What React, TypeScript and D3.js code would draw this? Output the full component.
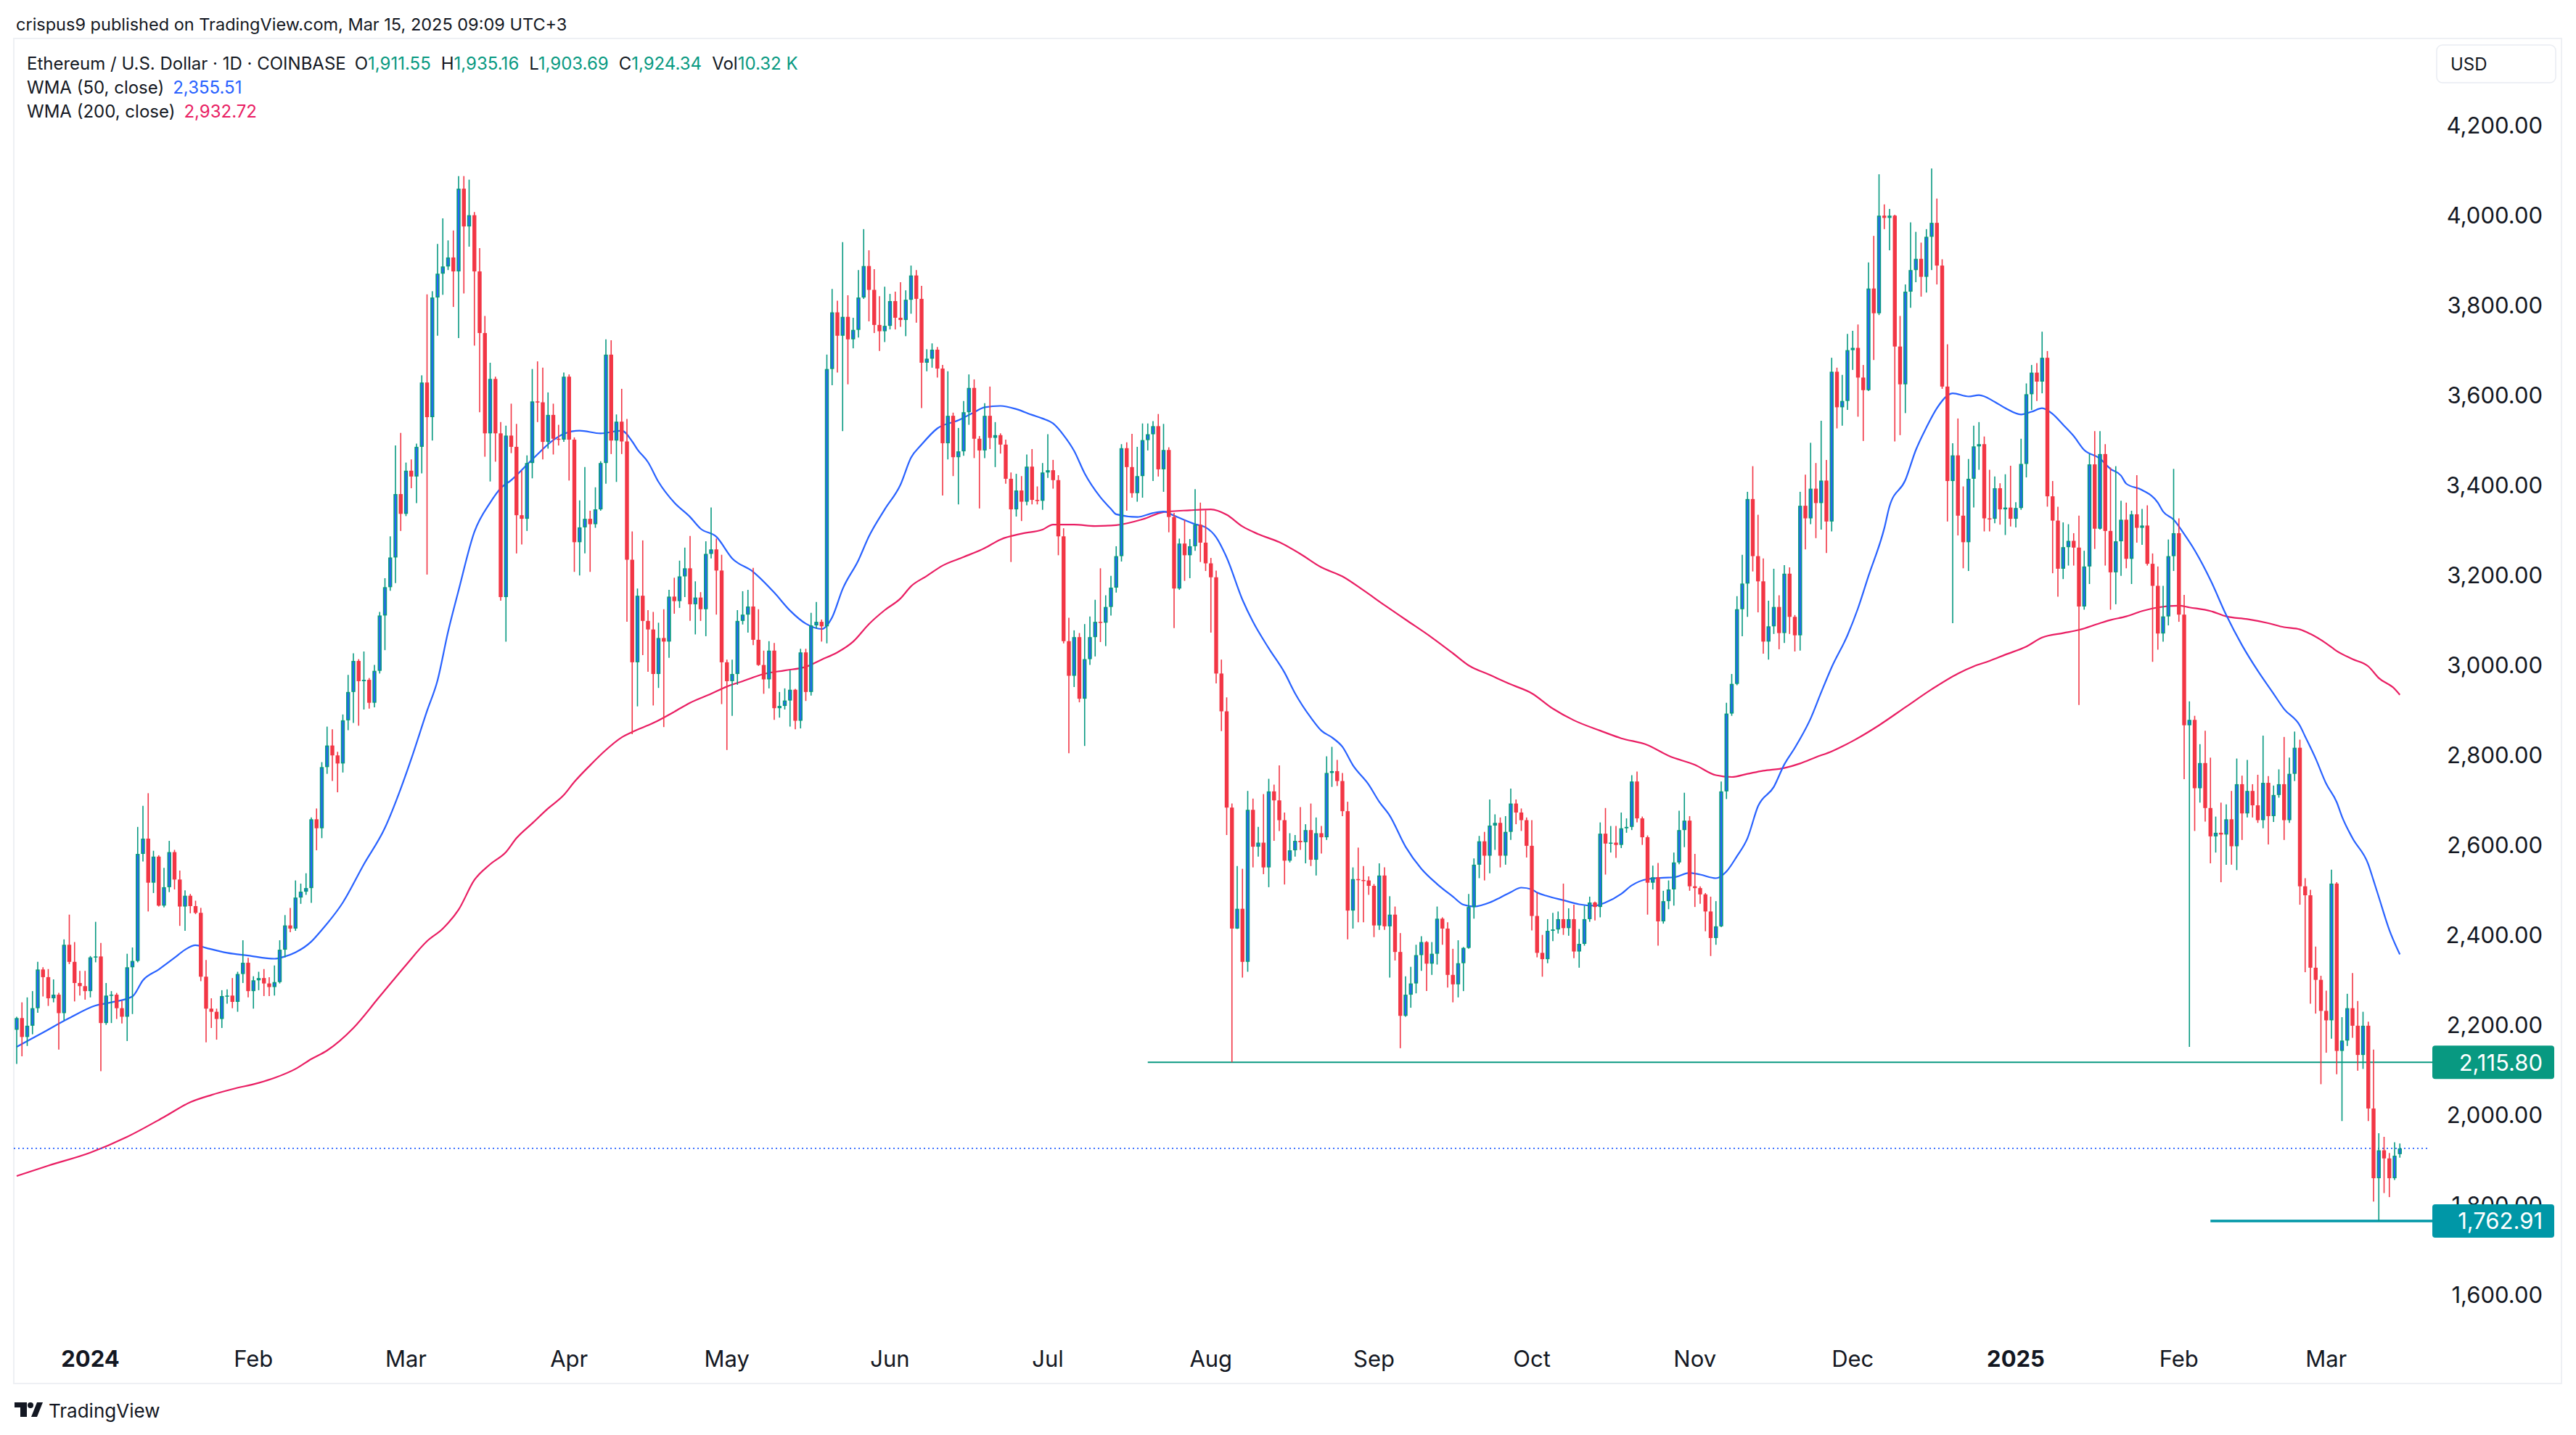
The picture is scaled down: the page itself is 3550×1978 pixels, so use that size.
import React from 'react';
import * as d3 from 'd3';

const W = 3550;
const H = 1978;

// daily candles, [open, high, low, close], consecutive days from each month's start
const dec23 = [
  [2188, 2217, 2112, 2214], [2214, 2249, 2129, 2172], [2172, 2260, 2152, 2197], [2197, 2274, 2178, 2236],
  [2236, 2339, 2226, 2322], [2322, 2327, 2262, 2305], [2305, 2323, 2241, 2258], [2258, 2300, 2249, 2266],
  [2266, 2270, 2144, 2225], [2225, 2389, 2209, 2377], [2377, 2444, 2334, 2339], [2339, 2383, 2251, 2292],
  [2292, 2319, 2264, 2285], [2285, 2319, 2255, 2274],
];
const jan24 = [
  [2274, 2352, 2260, 2349], [2349, 2428, 2338, 2351], [2351, 2381, 2096, 2203], [2203, 2292, 2199, 2264],
  [2264, 2274, 2203, 2266], [2266, 2270, 2212, 2236], [2236, 2253, 2202, 2217], [2217, 2357, 2163, 2327],
  [2327, 2371, 2223, 2341], [2341, 2639, 2338, 2579], [2579, 2686, 2562, 2613], [2613, 2714, 2451, 2515],
  [2515, 2586, 2492, 2573], [2573, 2576, 2462, 2464], [2464, 2548, 2460, 2505], [2505, 2608, 2494, 2583],
  [2583, 2588, 2500, 2522], [2522, 2542, 2419, 2462], [2462, 2498, 2408, 2486], [2486, 2490, 2447, 2463],
  [2463, 2475, 2445, 2448], [2448, 2459, 2296, 2306], [2306, 2343, 2160, 2235], [2235, 2258, 2192, 2228],
  [2228, 2235, 2166, 2212], [2212, 2276, 2192, 2263], [2263, 2278, 2246, 2264], [2264, 2303, 2236, 2250],
  [2250, 2317, 2228, 2312], [2312, 2387, 2292, 2337], [2337, 2348, 2260, 2274],
];
const feb24 = [
  [2274, 2307, 2235, 2298], [2298, 2317, 2276, 2303], [2303, 2323, 2263, 2291], [2291, 2305, 2263, 2283],
  [2283, 2331, 2264, 2294], [2294, 2387, 2291, 2366], [2366, 2443, 2349, 2420], [2420, 2459, 2405, 2413],
  [2413, 2520, 2408, 2482], [2482, 2513, 2468, 2495], [2495, 2536, 2488, 2503], [2503, 2660, 2470, 2656],
  [2656, 2680, 2587, 2636], [2636, 2783, 2614, 2772], [2772, 2862, 2757, 2820], [2820, 2856, 2741, 2798],
  [2798, 2806, 2716, 2780], [2780, 2889, 2760, 2876], [2876, 2977, 2854, 2939], [2939, 3025, 2870, 3008],
  [3008, 3012, 2864, 2963], [2963, 3029, 2900, 2966], [2966, 2970, 2902, 2915], [2915, 2999, 2905, 2986],
  [2986, 3117, 2980, 3109], [3109, 3192, 3032, 3172], [3172, 3285, 3164, 3238], [3238, 3487, 3181, 3379],
  [3379, 3515, 3297, 3335],
];
const mar24 = [
  [3335, 3449, 3330, 3431], [3431, 3456, 3392, 3418], [3418, 3491, 3359, 3484], [3484, 3643, 3425, 3627],
  [3627, 3823, 3200, 3550], [3550, 3830, 3498, 3816], [3816, 3935, 3731, 3869], [3869, 3992, 3822, 3885],
  [3885, 3943, 3877, 3905], [3905, 3965, 3795, 3874], [3874, 4086, 3726, 4058], [4058, 4086, 3825, 3974],
  [3974, 4078, 3929, 3999], [3999, 4006, 3709, 3874], [3874, 3926, 3561, 3737], [3737, 3775, 3462, 3514],
  [3514, 3671, 3407, 3635], [3635, 3640, 3451, 3514], [3514, 3539, 3142, 3150], [3150, 3531, 3051, 3509],
  [3509, 3580, 3470, 3484], [3484, 3535, 3247, 3332], [3332, 3431, 3267, 3324], [3324, 3465, 3297, 3448],
  [3448, 3657, 3414, 3585], [3585, 3674, 3539, 3583], [3583, 3660, 3456, 3495], [3495, 3605, 3480, 3555],
  [3555, 3580, 3467, 3502], [3502, 3533, 3487, 3500], [3500, 3649, 3495, 3640],
];
const apr24 = [
  [3640, 3645, 3409, 3500], [3500, 3505, 3206, 3272], [3272, 3365, 3198, 3305], [3305, 3439, 3247, 3324],
  [3324, 3342, 3206, 3312], [3312, 3394, 3304, 3345], [3345, 3452, 3342, 3448], [3448, 3723, 3402, 3689],
  [3689, 3721, 3468, 3498], [3498, 3556, 3406, 3540], [3540, 3613, 3468, 3496], [3496, 3546, 3095, 3233],
  [3233, 3296, 2845, 3005], [3005, 3169, 2907, 3153], [3153, 3276, 3021, 3097], [3097, 3121, 2984, 3078],
  [3078, 3117, 2909, 2979], [2979, 3093, 2948, 3059], [3059, 3123, 2861, 3051], [3051, 3166, 3015, 3151],
  [3151, 3193, 3113, 3141], [3141, 3231, 3126, 3196], [3196, 3260, 3150, 3214], [3214, 3286, 3097, 3134],
  [3134, 3185, 3067, 3149], [3149, 3161, 3097, 3123], [3123, 3274, 3063, 3246], [3246, 3349, 3236, 3256],
  [3256, 3280, 3111, 3209], [3209, 3244, 2912, 3005],
];
const may24 = [
  [3005, 3011, 2810, 2963], [2963, 3011, 2886, 2979], [2979, 3121, 2955, 3097], [3097, 3163, 3089, 3111],
  [3111, 3166, 3071, 3129], [3129, 3215, 3043, 3055], [3055, 3123, 2997, 2999], [2999, 3031, 2935, 2967],
  [2967, 3052, 2947, 3031], [3031, 3048, 2877, 2903], [2903, 2939, 2882, 2908], [2908, 2947, 2900, 2920],
  [2920, 2987, 2862, 2944], [2944, 2946, 2856, 2875], [2875, 3035, 2858, 3027], [3027, 3035, 2919, 2939],
  [2939, 3115, 2931, 3087], [3087, 3139, 3080, 3095], [3095, 3100, 3051, 3085], [3085, 3689, 3047, 3657],
  [3657, 3835, 3621, 3783], [3783, 3809, 3649, 3731], [3731, 3939, 3519, 3773], [3773, 3821, 3623, 3723],
  [3723, 3771, 3703, 3744], [3744, 3877, 3727, 3816], [3816, 3968, 3813, 3886], [3886, 3921, 3763, 3833],
  [3833, 3879, 3737, 3755], [3755, 3819, 3697, 3741], [3741, 3840, 3717, 3753],
];
const jun24 = [
  [3753, 3824, 3745, 3808], [3808, 3829, 3745, 3771], [3771, 3850, 3751, 3766], [3766, 3832, 3730, 3811],
  [3811, 3887, 3780, 3865], [3865, 3877, 3760, 3813], [3813, 3842, 3570, 3671], [3671, 3701, 3652, 3680],
  [3680, 3714, 3660, 3700], [3700, 3706, 3638, 3658], [3658, 3666, 3376, 3492], [3492, 3652, 3456, 3553],
  [3553, 3560, 3419, 3461], [3461, 3526, 3356, 3474], [3474, 3586, 3464, 3561], [3561, 3645, 3533, 3615],
  [3615, 3634, 3459, 3502], [3502, 3508, 3347, 3476], [3476, 3581, 3459, 3553], [3553, 3618, 3479, 3504],
  [3504, 3539, 3439, 3510], [3510, 3514, 3469, 3489], [3489, 3500, 3402, 3413], [3413, 3427, 3228, 3345],
  [3345, 3424, 3329, 3387], [3387, 3419, 3319, 3362], [3362, 3467, 3354, 3440], [3440, 3479, 3356, 3366],
  [3366, 3396, 3356, 3364], [3364, 3448, 3344, 3427],
];
const jul24 = [
  [3427, 3512, 3415, 3432], [3432, 3455, 3391, 3410], [3410, 3421, 3243, 3285], [3285, 3303, 3047, 3052],
  [3052, 3104, 2803, 2975], [2975, 3076, 2950, 3061], [3061, 3070, 2916, 2924], [2924, 3090, 2819, 3012],
  [3012, 3107, 2999, 3061], [3061, 3144, 3018, 3095], [3095, 3214, 3050, 3093], [3093, 3154, 3041, 3128],
  [3128, 3197, 3109, 3171], [3171, 3263, 3160, 3241], [3241, 3490, 3229, 3481], [3481, 3494, 3342, 3439],
  [3439, 3513, 3371, 3381], [3381, 3484, 3362, 3419], [3419, 3536, 3371, 3499], [3499, 3536, 3476, 3512],
  [3512, 3541, 3408, 3530], [3530, 3557, 3418, 3434], [3434, 3535, 3384, 3477], [3477, 3483, 3294, 3328],
  [3328, 3337, 3081, 3169], [3169, 3280, 3166, 3269], [3269, 3322, 3186, 3243], [3243, 3279, 3192, 3263],
  [3263, 3390, 3253, 3311], [3311, 3360, 3228, 3271], [3271, 3343, 3208, 3225],
];
const aug24 = [
  [3225, 3237, 3071, 3194], [3194, 3209, 2958, 2980], [2980, 3011, 2852, 2896], [2896, 2927, 2621, 2682],
  [2682, 2691, 2115.8, 2413], [2413, 2552, 2412, 2457], [2457, 2546, 2304, 2339], [2339, 2719, 2317, 2677],
  [2677, 2702, 2549, 2595], [2595, 2639, 2573, 2604], [2604, 2712, 2534, 2549], [2549, 2746, 2505, 2718],
  [2718, 2733, 2608, 2698], [2698, 2776, 2630, 2654], [2654, 2671, 2511, 2564], [2564, 2625, 2560, 2587],
  [2587, 2621, 2573, 2608], [2608, 2683, 2588, 2605], [2605, 2645, 2558, 2632], [2632, 2691, 2552, 2566],
  [2566, 2660, 2531, 2625], [2625, 2641, 2580, 2616], [2616, 2796, 2610, 2759], [2759, 2817, 2728, 2763],
  [2763, 2788, 2730, 2741], [2741, 2759, 2663, 2674], [2674, 2695, 2389, 2453], [2453, 2549, 2413, 2523],
  [2523, 2593, 2427, 2521], [2521, 2552, 2427, 2520], [2520, 2529, 2488, 2508],
];
const sep24 = [
  [2508, 2512, 2394, 2420], [2420, 2558, 2410, 2531], [2531, 2549, 2410, 2418], [2418, 2485, 2304, 2444],
  [2444, 2462, 2342, 2361], [2361, 2403, 2147, 2219], [2219, 2307, 2217, 2266], [2266, 2328, 2237, 2291],
  [2291, 2377, 2269, 2354], [2354, 2396, 2319, 2383], [2383, 2385, 2274, 2335], [2335, 2383, 2310, 2357],
  [2357, 2462, 2333, 2435], [2435, 2438, 2377, 2413], [2413, 2427, 2282, 2310], [2310, 2368, 2249, 2289],
  [2289, 2387, 2260, 2336], [2336, 2372, 2274, 2370], [2370, 2490, 2368, 2461], [2461, 2569, 2435, 2555],
  [2555, 2619, 2525, 2607], [2607, 2628, 2520, 2575], [2575, 2700, 2536, 2642], [2642, 2667, 2588, 2648],
  [2648, 2660, 2549, 2575], [2575, 2663, 2555, 2628], [2628, 2724, 2610, 2691], [2691, 2700, 2645, 2671],
  [2671, 2680, 2630, 2654], [2654, 2660, 2571, 2597],
];
const oct24 = [
  [2597, 2654, 2409, 2441], [2441, 2493, 2349, 2359], [2359, 2399, 2306, 2345], [2345, 2434, 2336, 2408],
  [2408, 2448, 2385, 2411], [2411, 2451, 2402, 2434], [2434, 2513, 2399, 2414], [2414, 2458, 2397, 2434],
  [2434, 2466, 2347, 2362], [2362, 2412, 2326, 2379], [2379, 2464, 2375, 2434], [2434, 2484, 2428, 2471],
  [2471, 2473, 2431, 2461], [2461, 2649, 2438, 2624], [2624, 2681, 2533, 2602], [2602, 2641, 2582, 2604],
  [2604, 2641, 2570, 2599], [2599, 2671, 2592, 2636], [2636, 2658, 2626, 2639], [2639, 2754, 2632, 2740],
  [2740, 2762, 2649, 2658], [2658, 2662, 2599, 2616], [2616, 2620, 2444, 2515], [2515, 2553, 2500, 2527],
  [2527, 2559, 2375, 2429], [2429, 2497, 2424, 2474], [2474, 2520, 2456, 2500], [2500, 2582, 2464, 2560],
  [2560, 2675, 2556, 2632], [2632, 2715, 2594, 2653], [2653, 2663, 2497, 2507],
];
const nov24 = [
  [2507, 2579, 2461, 2503], [2503, 2507, 2468, 2489], [2489, 2492, 2407, 2451], [2451, 2484, 2352, 2392],
  [2392, 2474, 2377, 2418], [2418, 2740, 2416, 2718], [2718, 2915, 2701, 2891], [2891, 2979, 2886, 2957],
  [2957, 3152, 2954, 3123], [3123, 3244, 3063, 3180], [3180, 3384, 3106, 3368], [3368, 3441, 3207, 3241],
  [3241, 3333, 3116, 3185], [3185, 3236, 3024, 3051], [3051, 3142, 3011, 3085], [3085, 3213, 3068, 3128],
  [3128, 3154, 3034, 3070], [3070, 3221, 3048, 3202], [3202, 3216, 3068, 3106], [3106, 3110, 3029, 3065],
  [3065, 3384, 3031, 3353], [3353, 3422, 3256, 3325], [3325, 3493, 3312, 3391], [3391, 3448, 3281, 3359],
  [3359, 3542, 3300, 3409], [3409, 3455, 3248, 3318], [3318, 3682, 3296, 3651], [3651, 3660, 3525, 3572],
  [3572, 3644, 3531, 3586], [3586, 3735, 3566, 3699],
];
const dec24 = [
  [3699, 3742, 3655, 3704], [3704, 3756, 3551, 3638], [3638, 3666, 3497, 3610], [3610, 3894, 3608, 3836],
  [3836, 3953, 3677, 3781], [3781, 4090, 3777, 3998], [3998, 4023, 3968, 3993], [3993, 4013, 3921, 3998],
  [3998, 4000, 3496, 3707], [3707, 3775, 3510, 3623], [3623, 3845, 3559, 3829], [3829, 3983, 3793, 3877],
  [3877, 3962, 3850, 3902], [3902, 3938, 3818, 3862], [3862, 3968, 3827, 3951], [3951, 4103, 3877, 3982],
  [3982, 4036, 3845, 3887], [3887, 3901, 3613, 3618], [3618, 3712, 3318, 3408], [3408, 3492, 3092, 3465],
  [3465, 3547, 3287, 3331], [3331, 3396, 3214, 3272], [3272, 3457, 3208, 3413], [3413, 3531, 3349, 3485],
  [3485, 3539, 3433, 3490], [3490, 3507, 3296, 3325], [3325, 3433, 3296, 3324], [3324, 3418, 3314, 3392],
  [3392, 3403, 3311, 3345], [3345, 3423, 3288, 3349], [3349, 3442, 3307, 3324],
];
const jan25 = [
  [3324, 3361, 3305, 3348], [3348, 3502, 3344, 3446], [3446, 3625, 3416, 3601], [3601, 3666, 3566, 3649],
  [3649, 3670, 3586, 3629], [3629, 3740, 3603, 3682], [3682, 3697, 3351, 3374], [3374, 3408, 3203, 3320],
  [3320, 3351, 3151, 3213], [3213, 3316, 3190, 3261], [3261, 3312, 3220, 3275], [3275, 3292, 3220, 3260],
  [3260, 3331, 2910, 3129], [3129, 3253, 3122, 3218], [3218, 3468, 3179, 3445], [3445, 3519, 3257, 3302],
  [3302, 3519, 3300, 3468], [3468, 3490, 3220, 3297], [3297, 3438, 3122, 3205], [3205, 3441, 3134, 3274],
  [3274, 3364, 3197, 3322], [3322, 3360, 3214, 3235], [3235, 3342, 3179, 3334], [3334, 3421, 3271, 3304],
  [3304, 3346, 3266, 3309], [3309, 3354, 3220, 3224], [3224, 3247, 3006, 3175], [3175, 3218, 3033, 3069],
  [3069, 3175, 3051, 3107], [3107, 3278, 3087, 3241], [3241, 3435, 3208, 3292],
];
const feb25 = [
  [3292, 3325, 3095, 3111], [3111, 3155, 2745, 2865], [2865, 2918, 2150, 2877], [2877, 2886, 2630, 2725],
  [2725, 2823, 2693, 2781], [2781, 2853, 2651, 2681], [2681, 2793, 2558, 2618], [2618, 2662, 2582, 2626],
  [2626, 2693, 2516, 2622], [2622, 2689, 2555, 2656], [2656, 2719, 2555, 2596], [2596, 2791, 2543, 2734],
  [2734, 2753, 2610, 2669], [2669, 2788, 2660, 2719], [2719, 2734, 2660, 2687], [2687, 2755, 2648, 2654],
  [2654, 2842, 2636, 2737], [2737, 2752, 2600, 2663], [2663, 2731, 2650, 2710], [2710, 2767, 2704, 2734],
  [2734, 2839, 2610, 2654], [2654, 2793, 2648, 2757], [2757, 2851, 2741, 2815], [2815, 2833, 2466, 2507],
  [2507, 2525, 2316, 2487], [2487, 2499, 2246, 2326], [2326, 2373, 2224, 2299], [2299, 2308, 2067, 2230],
];
const mar25 = [
  [2230, 2275, 2137, 2209], [2209, 2544, 2168, 2513], [2513, 2516, 2089, 2141], [2141, 2216, 1985, 2164],
  [2164, 2268, 2152, 2236], [2236, 2314, 2170, 2197], [2197, 2252, 2097, 2132], [2132, 2228, 2101, 2197],
  [2197, 2206, 1985, 2013], [2013, 2144, 1806, 1858], [1858, 1958, 1762.91, 1920], [1920, 1950, 1825, 1902],
  [1902, 1914, 1816, 1858], [1858, 1938, 1854, 1908], [1911.55, 1935.16, 1903.69, 1924.34],
];

const months: [string, number[][]][] = [
  ['2023-12-18', dec23], ['2024-01-01', jan24], ['2024-02-01', feb24], ['2024-03-01', mar24],
  ['2024-04-01', apr24], ['2024-05-01', may24], ['2024-06-01', jun24], ['2024-07-01', jul24],
  ['2024-08-01', aug24], ['2024-09-01', sep24], ['2024-10-01', oct24], ['2024-11-01', nov24],
  ['2024-12-01', dec24], ['2025-01-01', jan25], ['2025-02-01', feb25], ['2025-03-01', mar25],
];

// WMA readings, [days since 2024-01-01, value]
const wma50 = [
  [-14, 2150], [-9, 2182], [-4, 2214], [1, 2242], [4, 2249], [8, 2262], [10, 2298], [13, 2322], [16, 2348],
  [18, 2366], [20, 2376], [22, 2370], [26, 2359], [30, 2353], [35, 2346], [37, 2351], [39, 2360], [42, 2384],
  [44, 2410], [48, 2471], [52, 2556], [56, 2637], [59, 2724], [61, 2790], [64, 2897], [66, 2965], [68, 3073],
  [70, 3165], [73, 3295], [76, 3360], [78, 3392], [80, 3410], [84, 3456], [88, 3499], [90, 3513], [93, 3520],
  [97, 3514], [101, 3520], [103, 3496], [104, 3478], [106, 3450], [108, 3406], [111, 3360], [114, 3328],
  [116, 3302], [119, 3284], [122, 3236], [126, 3206], [130, 3160], [133, 3120], [136, 3091], [139, 3079],
  [141, 3105], [143, 3168], [146, 3232], [148, 3285], [151, 3345], [154, 3400], [156, 3460], [158, 3489],
  [161, 3525], [165, 3543], [168, 3561], [170, 3572], [173, 3575], [176, 3568], [179, 3555], [181, 3547],
  [183, 3536], [185, 3510], [187, 3475], [189, 3425], [192, 3372], [194, 3346], [195, 3334], [199, 3328],
  [202, 3337], [204, 3340], [206, 3331], [210, 3312], [212, 3305], [214, 3283], [216, 3238], [219, 3144],
  [221, 3095], [224, 3036], [227, 2982], [229, 2936], [232, 2882], [234, 2853], [236, 2838], [238, 2817],
  [240, 2776], [243, 2733], [245, 2695], [247, 2664], [250, 2595], [253, 2546], [256, 2512], [259, 2484],
  [261, 2466], [263, 2462], [266, 2471], [268, 2482], [270, 2494], [272, 2504], [274, 2500], [275, 2493],
  [277, 2485], [280, 2476], [283, 2467], [286, 2464], [288, 2471], [291, 2490], [293, 2509], [296, 2523],
  [299, 2526], [301, 2527], [304, 2537], [306, 2533], [309, 2525], [311, 2540], [313, 2574], [315, 2614],
  [317, 2685], [320, 2728], [322, 2778], [324, 2815], [327, 2880], [329, 2938], [331, 2994], [334, 3065],
  [336, 3125], [338, 3197], [341, 3303], [342, 3352], [345, 3410], [347, 3477], [349, 3527], [351, 3570],
  [353, 3598], [354, 3603], [357, 3596], [359, 3599], [362, 3584], [364, 3570], [367, 3556], [369, 3562],
  [371, 3570], [373, 3557], [375, 3533], [377, 3508], [379, 3477], [382, 3458], [384, 3435], [386, 3420],
  [387, 3402], [390, 3388], [393, 3360], [394, 3340], [396, 3322], [398, 3290], [400, 3254], [403, 3188],
  [406, 3110], [409, 3043], [412, 2986], [415, 2935], [417, 2901], [420, 2864], [421, 2840], [423, 2791],
  [425, 2735], [427, 2694], [428, 2662], [430, 2614], [433, 2556], [434, 2520], [435, 2483], [437, 2410],
  [439, 2355.51],
];
const wma200 = [
  [-14, 1863], [-8, 1886], [0, 1915], [7, 1950], [14, 1994], [19, 2027], [23, 2043], [27, 2056], [32, 2070],
  [35, 2081], [39, 2101], [42, 2123], [45, 2142], [50, 2192], [55, 2262], [60, 2332], [64, 2385], [67, 2413],
  [70, 2455], [73, 2521], [76, 2556], [79, 2583], [81, 2614], [84, 2647], [87, 2680], [90, 2710], [92, 2739],
  [95, 2776], [98, 2810], [101, 2838], [103, 2850], [107, 2870], [111, 2895], [114, 2915], [118, 2935],
  [121, 2951], [124, 2963], [128, 2979], [132, 2987], [136, 2995], [139, 3011], [142, 3027], [145, 3051],
  [148, 3090], [151, 3121], [154, 3147], [156, 3174], [159, 3197], [162, 3220], [166, 3239], [170, 3259],
  [173, 3278], [177, 3291], [181, 3300], [183, 3311], [187, 3311], [191, 3308], [195, 3310], [200, 3323],
  [204, 3339], [209, 3343], [213, 3345], [216, 3333], [219, 3307], [222, 3290], [226, 3272], [230, 3246],
  [234, 3216], [238, 3196], [242, 3165], [246, 3132], [250, 3100], [255, 3060], [259, 3025], [262, 2998],
  [266, 2977], [270, 2956], [274, 2936], [278, 2902], [282, 2876], [287, 2853], [291, 2836], [296, 2821],
  [300, 2797], [305, 2777], [309, 2754], [312, 2750], [315, 2757], [318, 2764], [322, 2770], [325, 2780],
  [328, 2794], [331, 2807], [335, 2830], [340, 2865], [345, 2905], [350, 2945], [355, 2980], [358, 2996],
  [361, 3008], [364, 3022], [368, 3040], [371, 3060], [375, 3070], [378, 3077], [382, 3092], [384, 3099],
  [387, 3107], [390, 3119], [393, 3127], [397, 3131], [399, 3127], [403, 3119], [406, 3107], [410, 3101],
  [414, 3092], [417, 3083], [420, 3078], [422, 3068], [425, 3047], [427, 3030], [430, 3012], [433, 2996],
  [435, 2970], [438, 2946], [439, 2932.72],
];

const priceTicks = [1600, 1800, 2000, 2200, 2400, 2600, 2800, 3000, 3200, 3400, 3600, 3800, 4000, 4200];
const timeLabels = [
  ['2024-01-01', '2024'], ['2024-02-01', 'Feb'], ['2024-03-01', 'Mar'], ['2024-04-01', 'Apr'],
  ['2024-05-01', 'May'], ['2024-06-01', 'Jun'], ['2024-07-01', 'Jul'], ['2024-08-01', 'Aug'],
  ['2024-09-01', 'Sep'], ['2024-10-01', 'Oct'], ['2024-11-01', 'Nov'], ['2024-12-01', 'Dec'],
  ['2025-01-01', '2025'], ['2025-02-01', 'Feb'], ['2025-03-01', 'Mar'],
];
// horizontal support levels drawn on the chart
const levels = [
  { price: 2115.8, from: '2024-07-20', color: '#089981', width: 2 },
  { price: 1762.91, from: '2025-02-07', color: '#0097A7', width: 3.5 },
];
const lastClose = 1924.34;

const UP = '#089981';
const UP_FILL = '#2962FF';
const DOWN = '#F23645';
const TEXT = '#131722';
const FONT = "Inter, Roboto, 'Noto Sans', sans-serif";

const utc = (s: string) => new Date(s + 'T00:00:00Z');

export default function App() {
  const base = utc('2024-01-01');
  const x = d3.scaleUtc().domain([base, utc('2025-03-01')]).range([124.5, 124.5 + 425 * 7.25]);
  const y = d3.scaleLinear().domain([1600, 4200]).range([1784, 172]);
  const fmt = d3.format(',.2f');

  const candles = months.flatMap(([start, rows]) =>
    rows.map((r, i) => ({ date: d3.utcDay.offset(utc(start), i), o: r[0], h: r[1], l: r[2], c: r[3] }))
  );

  const line = d3
    .line<number[]>()
    .x((d) => x(d3.utcDay.offset(base, d[0])))
    .y((d) => y(d[1]))
    .curve(d3.curveMonotoneX);

  const bodyW = 5.4;
  const plotLeft = 19;
  const plotRight = 3347;

  return (
    <svg
      width={W}
      height={H}
      viewBox={`0 0 ${W} ${H}`}
      style={{ position: 'absolute', left: 0, top: 0, background: '#fff', fontFamily: FONT }}
    >
      <rect x={0} y={0} width={W} height={H} fill="#fff" />
      <text x={22} y={33} dominantBaseline="central" fontSize={23.5} fill={TEXT}>
        crispus9 published on TradingView.com, Mar 15, 2025 09:09 UTC+3
      </text>
      <rect x={19} y={53} width={3511} height={1854} fill="none" stroke="#EEF0F4" strokeWidth={2} />

      {/* legend */}
      <text x={37} y={87} dominantBaseline="central" fontSize={24} fill={TEXT}>
        <tspan>Ethereum / U.S. Dollar · 1D · COINBASE</tspan>
        <tspan dx={12}>O</tspan>
        <tspan fill={UP}>1,911.55</tspan>
        <tspan dx={14}>H</tspan>
        <tspan fill={UP}>1,935.16</tspan>
        <tspan dx={14}>L</tspan>
        <tspan fill={UP}>1,903.69</tspan>
        <tspan dx={14}>C</tspan>
        <tspan fill={UP}>1,924.34</tspan>
        <tspan dx={14}>Vol</tspan>
        <tspan fill={UP}>10.32 K</tspan>
      </text>
      <text x={37} y={120} dominantBaseline="central" fontSize={24} fill={TEXT}>
        <tspan>WMA (50, close)</tspan>
        <tspan dx={12} fill="#2962FF">2,355.51</tspan>
      </text>
      <text x={37} y={153} dominantBaseline="central" fontSize={24} fill={TEXT}>
        <tspan>WMA (200, close)</tspan>
        <tspan dx={12} fill="#E91E63">2,932.72</tspan>
      </text>

      {/* moving averages */}
      <path d={line(wma200) || ''} fill="none" stroke="#E91E63" strokeWidth={2.2} />
      <path d={line(wma50) || ''} fill="none" stroke="#2962FF" strokeWidth={2.2} />

      {/* last price */}
      <line
        x1={plotLeft}
        x2={plotRight}
        y1={y(lastClose)}
        y2={y(lastClose)}
        stroke="#2962FF"
        strokeWidth={1.6}
        strokeDasharray="2 4"
      />

      {/* levels */}
      {levels.map((lv) => (
        <line
          key={lv.price}
          x1={x(utc(lv.from))}
          x2={3352}
          y1={y(lv.price)}
          y2={y(lv.price)}
          stroke={lv.color}
          strokeWidth={lv.width}
        />
      ))}

      {/* candles */}
      <g>
        {candles.map((d, i) => {
          const cx = x(d.date);
          const up = d.c >= d.o;
          const top = y(Math.max(d.o, d.c));
          const bot = y(Math.min(d.o, d.c));
          const hi = y(Math.max(d.h, d.o, d.c));
          const lo = y(Math.min(d.l, d.o, d.c));
          const bh = Math.max(bot - top, 1.5);
          return (
            <g key={i}>
              <line x1={cx} x2={cx} y1={hi} y2={lo} stroke={up ? UP : DOWN} strokeWidth={1.6} />
              {up ? (
                <>
                  <rect x={cx - bodyW / 2} y={top} width={bodyW} height={bh} fill={UP} />
                  {bh > 3.4 && (
                    <rect x={cx - bodyW / 2 + 1.7} y={top + 1.7} width={bodyW - 3.4} height={bh - 3.4} fill={UP_FILL} />
                  )}
                </>
              ) : (
                <rect x={cx - bodyW / 2} y={top} width={bodyW} height={bh} fill={DOWN} />
              )}
            </g>
          );
        })}
      </g>

      {/* price axis */}
      <rect x={3358} y={62} width={164} height={52} rx={8} fill="#fff" stroke="#E9ECF2" strokeWidth={1.5} />
      <text x={3377} y={88} dominantBaseline="central" fontSize={24} fill={TEXT}>
        USD
      </text>
      {priceTicks.map((p) => (
        <text key={p} x={3504} y={y(p)} textAnchor="end" dominantBaseline="central" fontSize={31} fill={TEXT}>
          {fmt(p)}
        </text>
      ))}
      {levels.map((lv) => (
        <g key={'lbl' + lv.price}>
          <rect x={3352} y={y(lv.price) - 23} width={168} height={46} rx={4} fill={lv.color} />
          <text
            x={3504}
            y={y(lv.price)}
            textAnchor="end"
            dominantBaseline="central"
            fontSize={31}
            fill="#fff"
          >
            {fmt(lv.price)}
          </text>
        </g>
      ))}

      {/* time axis */}
      {timeLabels.map(([d, label]) => (
        <text
          key={d}
          x={x(utc(d))}
          y={1872}
          textAnchor="middle"
          dominantBaseline="central"
          fontSize={31}
          fontWeight={/^\d/.test(label) ? 700 : 400}
          fill={TEXT}
        >
          {label}
        </text>
      ))}

      {/* TradingView mark */}
      <g fill={TEXT}>
        <rect x={20} y={1933} width={17} height={7} />
        <rect x={28} y={1933} width={9} height={20} />
        <circle cx={42} cy={1937} r={4} />
        <polygon points="43,1953 51,1933 59,1933 51,1953" />
      </g>
      <text x={67} y={1944} dominantBaseline="central" fontSize={26} fill={TEXT}>
        TradingView
      </text>
    </svg>
  );
}
